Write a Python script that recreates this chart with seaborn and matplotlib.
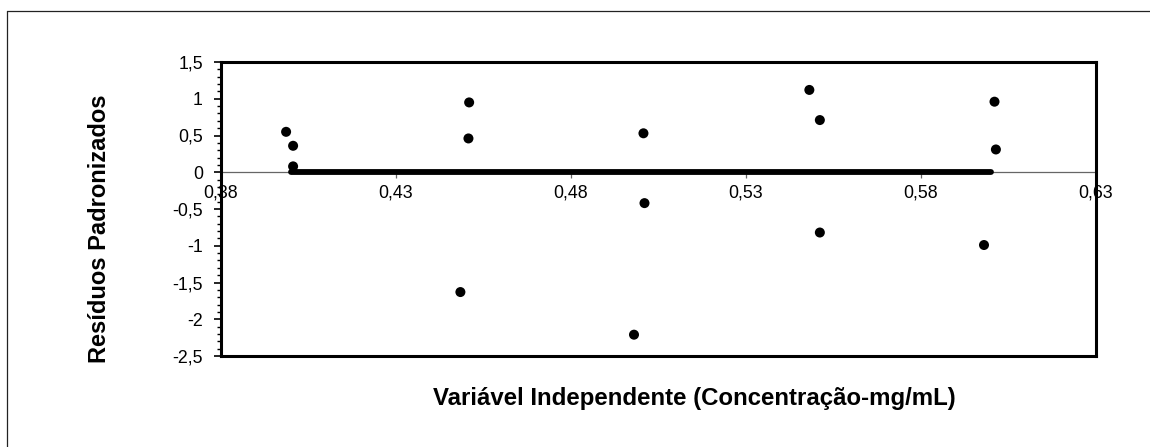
import matplotlib
matplotlib.use("Agg")
import matplotlib.pyplot as plt
import seaborn as sns
import pandas as pd
from matplotlib.lines import Line2D

# ---- data ----
conc = [0.3986, 0.4006, 0.4006, 0.4509, 0.4507, 0.4484, 0.5007, 0.5010, 0.4980,
        0.5481, 0.5511, 0.5511, 0.5980, 0.6010, 0.6014]
residuals = [0.55, 0.36, 0.08, 0.95, 0.46, -1.63, 0.53, -0.42, -2.21,
             1.12, 0.71, -0.82, -0.99, 0.96, 0.31]
zero_x = [0.40, 0.60]
zero_y = [0.0, 0.0]
x_ticks = [0.38, 0.43, 0.48, 0.53, 0.58, 0.63]
x_tick_labels = ["0,38", "0,43", "0,48", "0,53", "0,58", "0,63"]
y_ticks = [1.5, 1.0, 0.5, 0.0, -0.5, -1.0, -1.5, -2.0, -2.5]
y_tick_labels = ["1,5", "1", "0,5", "0", "-0,5", "-1", "-1,5", "-2", "-2,5"]
x_label = "Variável Independente (Concentração-mg/mL)"
y_label = "Resíduos Padronizados"

sns.set_theme(style="white")
plt.rcParams["font.family"] = ["Liberation Sans", "DejaVu Sans"]

W, H = 1150, 447
fig = plt.figure(figsize=(W / 100, H / 100), dpi=100)
ax = fig.add_axes([221 / W, 1 - 356 / H, (1096 - 221) / W, (356 - 62) / H])

df = pd.DataFrame({"x": conc, "y": residuals})
dz = pd.DataFrame({"x": zero_x, "y": zero_y})

sns.lineplot(data=dz, x="x", y="y", ax=ax, color="black", linewidth=4.2,
             solid_capstyle="round", zorder=3)
sns.scatterplot(data=df, x="x", y="y", ax=ax, color="black", s=52,
                edgecolor="none", zorder=4)

# spines: bottom spine serves as the zero axis (set before ticks)
for s in ["top", "left", "right"]:
    ax.spines[s].set_color("black")
    ax.spines[s].set_linewidth(2.2)
ax.spines["bottom"].set_position(("data", 0))
ax.spines["bottom"].set_color("#666666")
ax.spines["bottom"].set_linewidth(0.9)
ax.spines["bottom"].set_zorder(1)
ax.plot([0, 1], [0, 0], transform=ax.transAxes, color="black", lw=2.2,
        clip_on=False, zorder=5, solid_capstyle="projecting")

ax.set_xlim(0.38, 0.63)
ax.set_ylim(-2.5, 1.5)

ax.set_xticks(x_ticks)
ax.set_xticklabels(x_tick_labels)
ax.set_yticks(y_ticks)
ax.set_yticklabels(y_tick_labels)
ax.set_yticks([v / 10 for v in range(-25, 16)], minor=True)

ax.set_xlabel("")
ax.set_ylabel("")

ax.tick_params(axis="x", which="major", direction="out", length=4, width=0.9,
               color="#666666", pad=5, bottom=True, labelcolor="black",
               labelsize=12.8)
ax.tick_params(axis="y", which="major", direction="out", length=5, width=1.2,
               color="black", pad=8, left=True, labelcolor="black",
               labelsize=12.8)
ax.tick_params(axis="y", which="minor", direction="out", length=3, width=1.0,
               color="black", left=True)

# axis titles
fig.text(694 / W, 1 - 398 / H, x_label, ha="center", va="center",
         fontsize=17.3, fontweight="bold", color="black")
fig.text(100 / W, 1 - 229 / H, y_label, ha="center", va="center",
         rotation=90, fontsize=17, fontweight="bold", color="black")

# outer chart frame (only top and left edges inside the image)
fig.add_artist(Line2D([7 / W, 1.0], [1 - 11 / H, 1 - 11 / H],
                      transform=fig.transFigure, color="#222222", lw=0.9))
fig.add_artist(Line2D([7 / W, 7 / W], [1 - 11 / H, 0.0],
                      transform=fig.transFigure, color="#222222", lw=0.9))

fig.savefig("out.png", dpi=100)
